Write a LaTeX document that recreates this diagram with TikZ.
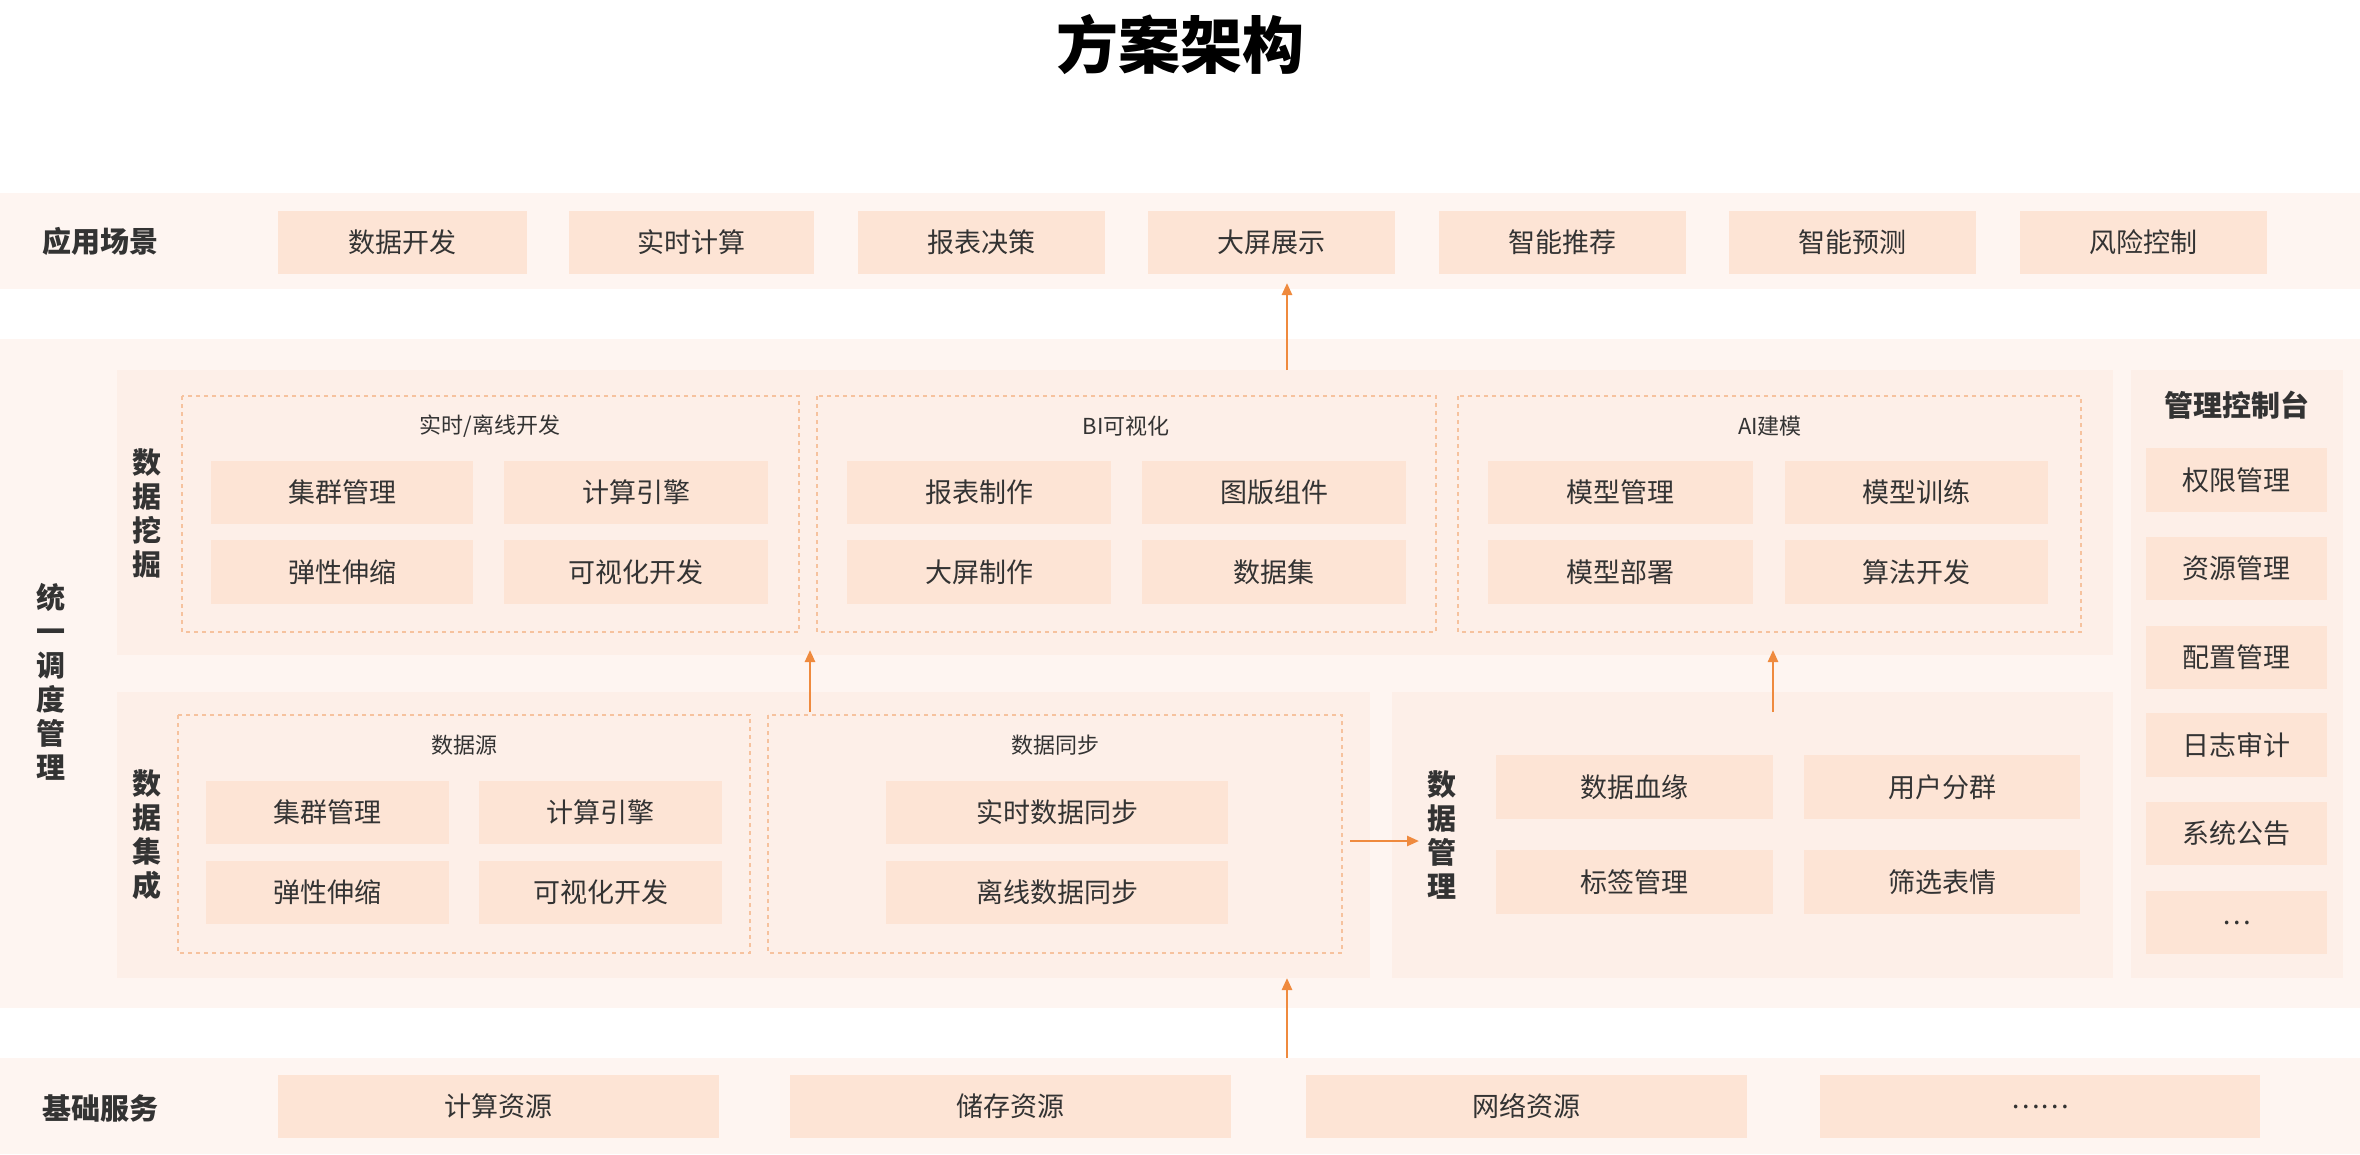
\documentclass[tikz,border=0pt]{standalone}
\usepackage{fontspec}
\setmainfont{Noto Sans CJK SC}
\usetikzlibrary{arrows.meta}
\definecolor{bandbg}{HTML}{FEF5F1}
\definecolor{panelbg}{HTML}{FDEFE8}
\definecolor{boxbg}{HTML}{FDE4D5}
\definecolor{dashc}{HTML}{F6C29E}
\definecolor{arrc}{HTML}{EF8A3E}
\definecolor{txt}{HTML}{333333}
\tikzset{
 box/.style={fill=boxbg,draw=none,inner sep=0pt,font=\fontsize{27}{30}\selectfont,text=txt},
 lbl/.style={font=\bfseries\fontsize{29}{34}\selectfont,text=txt,align=center},
 gtitle/.style={font=\fontsize{22}{26}\selectfont,text=txt},
 dbox/.style={draw=dashc,line width=1.5pt,dash pattern=on 4pt off 4pt},
 arr/.style={draw=arrc,line width=2.5pt,-{Triangle[length=12pt,width=10pt]}}
}
\newcommand{\bx}[6]{\node[box,minimum width=#4-#2,minimum height=#5-#3] (#1) at ({(#2+#4)/2},{(#3+#5)/2}) {#6};}
\begin{document}
\begin{tikzpicture}[x=1pt,y=-1pt]
\useasboundingbox (0,0) rectangle (2360,1154);
\fill[white] (0,0) rectangle (2360,1154);
\node[font=\bfseries\fontsize{62}{70}\selectfont,text=black] (title) at (1180,45) {方案架构};
% top band
\fill[bandbg] (0,193) rectangle (2360,289);
\node[lbl] (app) at (100,241) {应用场景};
\bx{a1}{278}{211}{527}{274}{数据开发}
\bx{a2}{569}{211}{814}{274}{实时计算}
\bx{a3}{858}{211}{1105}{274}{报表决策}
\bx{a4}{1148}{211}{1395}{274}{大屏展示}
\bx{a5}{1439}{211}{1686}{274}{智能推荐}
\bx{a6}{1729}{211}{1976}{274}{智能预测}
\bx{a7}{2020}{211}{2267}{274}{风险控制}
% middle band
\fill[bandbg] (0,339) rectangle (2360,1008);
\node[lbl,text width=30pt] (ty) at (51,682) {统\\一\\调\\度\\管\\理};
% data mining panel
\fill[panelbg] (117,370) rectangle (2113,655);
\node[lbl,text width=30pt] (wj) at (147,514) {数\\据\\挖\\掘};
\draw[dbox] (182,396) rectangle (799,632);
\draw[dbox] (817,396) rectangle (1436,632);
\draw[dbox] (1458,396) rectangle (2081,632);
\node[gtitle] (g1) at (490,426) {实时/离线开发};
\node[gtitle] (g2) at (1126,426) {BI可视化};
\node[gtitle] (g3) at (1770,426) {AI建模};
\bx{m1}{211}{461}{473}{524}{集群管理}
\bx{m2}{504}{461}{768}{524}{计算引擎}
\bx{m3}{211}{540}{473}{604}{弹性伸缩}
\bx{m4}{504}{540}{768}{604}{可视化开发}
\bx{b1}{847}{461}{1111}{524}{报表制作}
\bx{b2}{1142}{461}{1406}{524}{图版组件}
\bx{b3}{847}{540}{1111}{604}{大屏制作}
\bx{b4}{1142}{540}{1406}{604}{数据集}
\bx{c1}{1488}{461}{1753}{524}{模型管理}
\bx{c2}{1785}{461}{2048}{524}{模型训练}
\bx{c3}{1488}{540}{1753}{604}{模型部署}
\bx{c4}{1785}{540}{2048}{604}{算法开发}
% data integration panel
\fill[panelbg] (117,692) rectangle (1370,978);
\node[lbl,text width=30pt] (jc) at (147,835) {数\\据\\集\\成};
\draw[dbox] (178,715) rectangle (750,953);
\draw[dbox] (768,715) rectangle (1342,953);
\node[gtitle] (g4) at (464,745) {数据源};
\node[gtitle] (g5) at (1055,745) {数据同步};
\bx{s1}{206}{781}{449}{844}{集群管理}
\bx{s2}{479}{781}{722}{844}{计算引擎}
\bx{s3}{206}{861}{449}{924}{弹性伸缩}
\bx{s4}{479}{861}{722}{924}{可视化开发}
\bx{t1}{886}{781}{1228}{844}{实时数据同步}
\bx{t2}{886}{861}{1228}{924}{离线数据同步}
% data management panel
\fill[panelbg] (1392,692) rectangle (2113,978);
\node[lbl,text width=30pt] (gl) at (1442,835) {数\\据\\管\\理};
\bx{d1}{1496}{755}{1773}{819}{数据血缘}
\bx{d2}{1804}{755}{2080}{819}{用户分群}
\bx{d3}{1496}{850}{1773}{914}{标签管理}
\bx{d4}{1804}{850}{2080}{914}{筛选表情}
% console panel
\fill[panelbg] (2131,370) rectangle (2343,978);
\node[lbl] (kz) at (2237,405) {管理控制台};
\bx{k1}{2146}{448}{2327}{512}{权限管理}
\bx{k2}{2146}{537}{2327}{600}{资源管理}
\bx{k3}{2146}{626}{2327}{689}{配置管理}
\bx{k4}{2146}{713}{2327}{777}{日志审计}
\bx{k5}{2146}{802}{2327}{865}{系统公告}
\bx{k6}{2146}{891}{2327}{954}{…}
% bottom band
\fill[bandbg] (0,1058) rectangle (2360,1154);
\node[lbl] (jc2) at (100,1108) {基础服务};
\bx{f1}{278}{1075}{719}{1138}{计算资源}
\bx{f2}{790}{1075}{1231}{1138}{储存资源}
\bx{f3}{1306}{1075}{1747}{1138}{网络资源}
\bx{f4}{1820}{1075}{2260}{1138}{……}
% arrows
\coordinate (p1) at (1287,370); \coordinate (q1) at (1287,283);
\coordinate (p2) at (810,712); \coordinate (q2) at (810,650);
\coordinate (p3) at (1773,712); \coordinate (q3) at (1773,650);
\coordinate (p4) at (1350,841); \coordinate (q4) at (1419,841);
\coordinate (p5) at (1287,1058); \coordinate (q5) at (1287,978);
\draw[arr] (p1) -- (q1);
\draw[arr] (p2) -- (q2);
\draw[arr] (p3) -- (q3);
\draw[arr] (p4) -- (q4);
\draw[arr] (p5) -- (q5);
\end{tikzpicture}
\end{document}
